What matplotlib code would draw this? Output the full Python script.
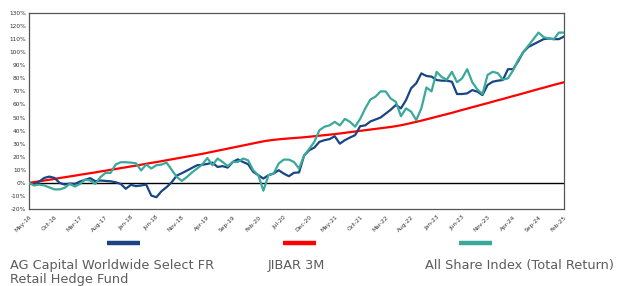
import matplotlib
matplotlib.use('Agg')
import matplotlib.pyplot as plt
from matplotlib.lines import Line2D
import numpy as np

# monthly cumulative returns (%), May-16 .. Feb-25
fund = [0, -1.3, 1, 3.8, 4.8, 3.8, 0, -1.3, -0.5, -0.8, 1, 2.3,
        3.6, 1.3, 1.8, 1.5, 1.2, 0.5, -0.8, -4.5, -1.5, -2.5, -2, -1.3,
        -9.7, -11, -6.4, -3.3, 0.5, 5.6, 7.4, 9.4, 11.5, 13.5, 13.8, 14.5,
        15.5, 12.2, 12.8, 11.7, 16, 18, 16, 14.3, 8.4, 5.9, 3.3, 5.9,
        7.1, 9.7, 7.1, 5.1, 7.7, 8, 21, 25, 27, 31.4, 32.7, 33.5,
        35.7, 30, 32.7, 34.7, 36.5, 43.4, 44, 47, 48.5, 50, 53, 56,
        59.6, 57, 63.4, 72.4, 76.2, 83.8, 81.8, 81.3, 78.7, 78.2, 78.2, 77.4,
        68, 68, 68.5, 71, 69.8, 67.2, 74.9, 77.4, 78.2, 78.7, 87, 87,
        93, 100, 104, 106, 108, 110, 110.5, 110, 110, 112]

jibar = [0, 0.6, 1.2, 1.8, 2.4, 3.0, 3.7, 4.3, 4.9, 5.5, 6.2, 6.8,
         7.4, 8.0, 8.7, 9.3, 10.0, 10.6, 11.3, 11.9, 12.6, 13.2, 13.9, 14.6,
         15.3, 15.9, 16.6, 17.3, 18.0, 18.7, 19.4, 20.1, 20.8, 21.5, 22.2, 23.0,
         23.8, 24.6, 25.4, 26.2, 27.0, 27.8, 28.6, 29.4, 30.2, 31.0, 31.8, 32.4,
         32.9, 33.3, 33.7, 34.0, 34.3, 34.6, 34.9, 35.3, 35.7, 36.1, 36.5, 36.9,
         37.3, 37.8, 38.3, 38.8, 39.3, 39.8, 40.3, 40.8, 41.3, 41.8, 42.3, 42.8,
         43.4, 44.1, 44.9, 45.8, 46.7, 47.6, 48.6, 49.6, 50.6, 51.6, 52.6, 53.6,
         54.7, 55.8, 56.8, 57.9, 58.9, 60.0, 61.0, 62.1, 63.2, 64.2, 65.3, 66.4,
         67.4, 68.5, 69.6, 70.7, 71.8, 72.8, 73.9, 75.0, 76.0, 77.0]

alsi = [0, -2, -1.3, -2, -3.5, -5, -5, -3.8, -0.8, -2.8, -0.8, 2.5,
        1.8, -0.8, 4.3, 7.6, 7.6, 14, 15.8, 15.8, 15.5, 15, 9.5, 14,
        11, 13.5, 14, 15.5, 10, 4.5, 1.5, 4.5, 8, 11, 14, 19,
        13.5, 18.6, 16, 12.8, 16, 16, 18.6, 17.3, 9.7, 5.9, -6, 5.9,
        7.1, 14.8, 17.8, 17.8, 16, 11, 21, 26, 31.4, 40.3, 43, 44,
        46.7, 44, 49, 46.7, 43, 49, 57, 63.8, 66, 70, 70, 64.5,
        62, 51, 57, 54.5, 48, 57, 73, 70, 85, 81, 79, 85,
        77, 80, 87, 77, 71.5, 68, 82.6, 85, 84, 79, 80, 86,
        94, 100, 105, 110, 115, 111.5, 110.5, 110, 115, 115]

tick_labels = ['May-16', 'Oct-16', 'Mar-17', 'Aug-17', 'Jan-18', 'Jun-18',
               'Nov-18', 'Apr-19', 'Sep-19', 'Feb-20', 'Jul-20', 'Dec-20',
               'May-21', 'Oct-21', 'Mar-22', 'Aug-22', 'Jan-23', 'Jun-23',
               'Nov-23', 'Apr-24', 'Sep-24', 'Feb-25']

legend_names = ['AG Capital Worldwide Select FR\nRetail Hedge Fund',
                'JIBAR 3M', 'All Share Index (Total Return)']

BLUE = '#1a4585'
RED = '#ff0000'
TEAL = '#3aa99a'

months = np.arange(len(fund))

fig = plt.figure(figsize=(6.2, 2.86), dpi=100)
ax = fig.add_axes([29 / 620, 1 - 209 / 286, 535 / 620, 196 / 286])

ax.plot(months, jibar, color=RED, lw=1.6, zorder=3)
ax.plot(months, fund, color=BLUE, lw=1.6, zorder=4)
ax.plot(months, alsi, color=TEAL, lw=1.6, zorder=5)
ax.axhline(0, color='black', lw=1.0, zorder=2)

ax.set_xlim(0, len(fund) - 1)
ax.set_ylim(-20, 130)
ax.set_yticks(np.arange(-20, 131, 10))
ax.set_yticklabels([f'{v}%' for v in range(-20, 131, 10)])
ax.set_xticks(np.arange(0, len(fund), 5))
ax.set_xticklabels(tick_labels, rotation=45, ha='right', rotation_mode='anchor')
ax.tick_params(axis='both', length=0, labelsize=4.2, colors='#333333', pad=2)
ax.tick_params(axis='x', pad=4)
for s in ax.spines.values():
    s.set_color('#555555')
    s.set_linewidth(0.9)

# legend: coloured bars above the names
for x0, col in zip([107, 283, 459], [BLUE, RED, TEAL]):
    fig.add_artist(Line2D([x0 / 620, (x0 + 33) / 620], [1 - 242.5 / 286] * 2,
                          color=col, lw=3.2, solid_capstyle='butt'))
for x0, name in zip([10, 268, 425], legend_names):
    fig.text(x0 / 620, 1 - 259.5 / 286, name, fontsize=9.3, color='#5c5c5c',
             va='top', ha='left', linespacing=1.05, family='DejaVu Sans')

fig.savefig('out.png', dpi=100)
